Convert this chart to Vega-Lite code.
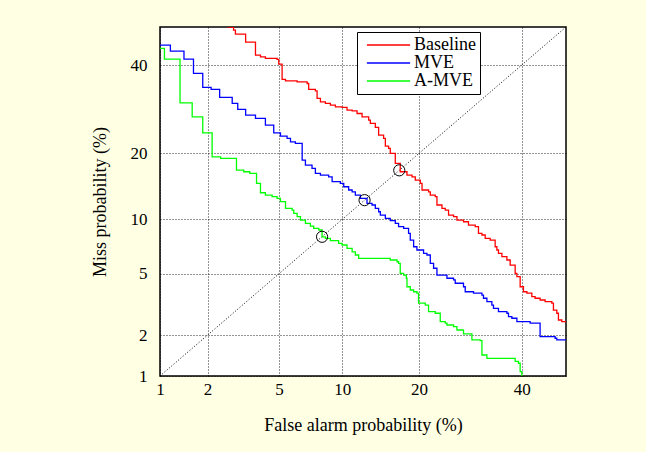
{
  "$schema": "https://vega.github.io/schema/vega-lite/v6.json",
  "width": 406,
  "height": 349,
  "autosize": {"type": "none"},
  "padding": {"left": 160, "top": 27, "right": 80, "bottom": 76},
  "background": "#FFFFE3",
  "config": {
    "view": {"stroke": "black", "strokeWidth": 1.5, "fill": "white"},
    "axis": {
      "grid": true, "gridColor": "#000000", "gridDash": [1, 2], "gridWidth": 1, "gridOpacity": 0.85,
      "domain": false, "ticks": false,
      "labelFont": "Liberation Serif", "labelFontSize": 17, "labelColor": "black",
      "titleFont": "Liberation Serif", "titleFontSize": 18, "titleFontWeight": "normal", "titleColor": "black"
    },
    "legend": {
      "labelFont": "Liberation Serif", "labelFontSize": 18, "labelColor": "black"
    }
  },
  "datasets": {
    "curves": [
      {"s":"Baseline","k":1,"fa":2.62,"miss":50},
      {"s":"Baseline","k":2,"fa":2.84,"miss":49.15},
      {"s":"Baseline","k":3,"fa":2.91,"miss":48.09},
      {"s":"Baseline","k":4,"fa":3.23,"miss":48.09},
      {"s":"Baseline","k":5,"fa":3.32,"miss":45.97},
      {"s":"Baseline","k":6,"fa":3.76,"miss":45.97},
      {"s":"Baseline","k":7,"fa":3.76,"miss":42.56},
      {"s":"Baseline","k":8,"fa":4.00,"miss":42.11},
      {"s":"Baseline","k":9,"fa":4.25,"miss":41.70},
      {"s":"Baseline","k":10,"fa":4.89,"miss":41.44},
      {"s":"Baseline","k":11,"fa":4.99,"miss":40.22},
      {"s":"Baseline","k":12,"fa":5.19,"miss":39.96},
      {"s":"Baseline","k":13,"fa":5.19,"miss":36.33},
      {"s":"Baseline","k":14,"fa":5.40,"miss":35.99},
      {"s":"Baseline","k":15,"fa":6.05,"miss":35.99},
      {"s":"Baseline","k":16,"fa":6.17,"miss":35.71},
      {"s":"Baseline","k":17,"fa":6.90,"miss":35.32},
      {"s":"Baseline","k":18,"fa":7.02,"miss":33.87},
      {"s":"Baseline","k":19,"fa":7.55,"miss":33.53},
      {"s":"Baseline","k":20,"fa":7.69,"miss":31.70},
      {"s":"Baseline","k":21,"fa":7.97,"miss":30.90},
      {"s":"Baseline","k":22,"fa":8.40,"miss":30.52},
      {"s":"Baseline","k":23,"fa":8.85,"miss":30.13},
      {"s":"Baseline","k":24,"fa":9.32,"miss":29.73},
      {"s":"Baseline","k":25,"fa":9.97,"miss":29.60},
      {"s":"Baseline","k":26,"fa":10.48,"miss":28.98},
      {"s":"Baseline","k":27,"fa":11.02,"miss":28.82},
      {"s":"Baseline","k":28,"fa":11.56,"miss":28.21},
      {"s":"Baseline","k":29,"fa":12.13,"miss":27.46},
      {"s":"Baseline","k":30,"fa":12.91,"miss":26.74},
      {"s":"Baseline","k":31,"fa":13.11,"miss":26.02},
      {"s":"Baseline","k":32,"fa":13.73,"miss":25.17},
      {"s":"Baseline","k":33,"fa":14.15,"miss":23.56},
      {"s":"Baseline","k":34,"fa":14.80,"miss":22.89},
      {"s":"Baseline","k":35,"fa":15.03,"miss":21.36},
      {"s":"Baseline","k":36,"fa":15.47,"miss":20.92},
      {"s":"Baseline","k":37,"fa":15.70,"miss":19.98},
      {"s":"Baseline","k":38,"fa":16.40,"miss":19.84},
      {"s":"Baseline","k":39,"fa":16.40,"miss":18.17},
      {"s":"Baseline","k":40,"fa":17.11,"miss":16.73},
      {"s":"Baseline","k":41,"fa":18.11,"miss":16.18},
      {"s":"Baseline","k":42,"fa":18.88,"miss":15.90},
      {"s":"Baseline","k":43,"fa":19.39,"miss":15.38},
      {"s":"Baseline","k":44,"fa":20.19,"miss":14.86},
      {"s":"Baseline","k":45,"fa":20.47,"miss":13.86},
      {"s":"Baseline","k":46,"fa":21.55,"miss":13.60},
      {"s":"Baseline","k":47,"fa":21.84,"miss":13.13},
      {"s":"Baseline","k":48,"fa":22.69,"miss":12.90},
      {"s":"Baseline","k":49,"fa":22.98,"miss":11.77},
      {"s":"Baseline","k":50,"fa":23.86,"miss":11.34},
      {"s":"Baseline","k":51,"fa":24.45,"miss":11.12},
      {"s":"Baseline","k":52,"fa":25.05,"miss":10.50},
      {"s":"Baseline","k":53,"fa":25.97,"miss":10.30},
      {"s":"Baseline","k":54,"fa":26.60,"miss":9.91},
      {"s":"Baseline","k":55,"fa":27.85,"miss":9.71},
      {"s":"Baseline","k":56,"fa":28.82,"miss":9.34},
      {"s":"Baseline","k":57,"fa":30.15,"miss":9.16},
      {"s":"Baseline","k":58,"fa":30.80,"miss":8.45},
      {"s":"Baseline","k":59,"fa":31.50,"miss":8.28},
      {"s":"Baseline","k":60,"fa":32.17,"miss":7.95},
      {"s":"Baseline","k":61,"fa":33.20,"miss":7.78},
      {"s":"Baseline","k":62,"fa":34.24,"miss":7.15},
      {"s":"Baseline","k":63,"fa":34.60,"miss":6.86},
      {"s":"Baseline","k":64,"fa":34.94,"miss":6.57},
      {"s":"Baseline","k":65,"fa":35.67,"miss":6.29},
      {"s":"Baseline","k":66,"fa":36.74,"miss":6.02},
      {"s":"Baseline","k":67,"fa":37.45,"miss":5.63},
      {"s":"Baseline","k":68,"fa":38.54,"miss":5.03},
      {"s":"Baseline","k":69,"fa":38.92,"miss":4.80},
      {"s":"Baseline","k":70,"fa":39.64,"miss":4.17},
      {"s":"Baseline","k":71,"fa":40.37,"miss":3.88},
      {"s":"Baseline","k":72,"fa":41.13,"miss":3.80},
      {"s":"Baseline","k":73,"fa":42.24,"miss":3.61},
      {"s":"Baseline","k":74,"fa":42.98,"miss":3.53},
      {"s":"Baseline","k":75,"fa":44.10,"miss":3.44},
      {"s":"Baseline","k":76,"fa":45.24,"miss":3.36},
      {"s":"Baseline","k":77,"fa":46.76,"miss":3.28},
      {"s":"Baseline","k":78,"fa":47.13,"miss":2.96},
      {"s":"Baseline","k":79,"fa":47.90,"miss":2.82},
      {"s":"Baseline","k":80,"fa":48.27,"miss":2.54},
      {"s":"Baseline","k":81,"fa":49.04,"miss":2.48},
      {"s":"Baseline","k":82,"fa":50,"miss":2.48},
      {"s":"MVE","k":1,"fa":1.0,"miss":45.18},
      {"s":"MVE","k":2,"fa":1.17,"miss":43.60},
      {"s":"MVE","k":3,"fa":1.43,"miss":41.51},
      {"s":"MVE","k":4,"fa":1.64,"miss":37.85},
      {"s":"MVE","k":5,"fa":1.87,"miss":34.35},
      {"s":"MVE","k":6,"fa":2.10,"miss":33.87},
      {"s":"MVE","k":7,"fa":2.36,"miss":31.94},
      {"s":"MVE","k":8,"fa":2.79,"miss":30.52},
      {"s":"MVE","k":9,"fa":3.00,"miss":29.13},
      {"s":"MVE","k":10,"fa":3.32,"miss":27.85},
      {"s":"MVE","k":11,"fa":3.76,"miss":27.12},
      {"s":"MVE","k":12,"fa":4.25,"miss":25.65},
      {"s":"MVE","k":13,"fa":4.70,"miss":24.01},
      {"s":"MVE","k":14,"fa":5.09,"miss":23.36},
      {"s":"MVE","k":15,"fa":5.50,"miss":22.89},
      {"s":"MVE","k":16,"fa":5.72,"miss":22.21},
      {"s":"MVE","k":17,"fa":6.05,"miss":21.90},
      {"s":"MVE","k":18,"fa":6.53,"miss":21.36},
      {"s":"MVE","k":19,"fa":6.53,"miss":18.75},
      {"s":"MVE","k":20,"fa":6.77,"miss":17.87},
      {"s":"MVE","k":21,"fa":7.28,"miss":17.30},
      {"s":"MVE","k":22,"fa":7.55,"miss":16.46},
      {"s":"MVE","k":23,"fa":7.97,"miss":16.18},
      {"s":"MVE","k":24,"fa":8.69,"miss":15.90},
      {"s":"MVE","k":25,"fa":9.01,"miss":15.12},
      {"s":"MVE","k":26,"fa":9.80,"miss":14.86},
      {"s":"MVE","k":27,"fa":10.14,"miss":14.35},
      {"s":"MVE","k":28,"fa":10.65,"miss":13.86},
      {"s":"MVE","k":29,"fa":11.02,"miss":13.60},
      {"s":"MVE","k":30,"fa":11.37,"miss":13.13},
      {"s":"MVE","k":31,"fa":11.94,"miss":12.67},
      {"s":"MVE","k":32,"fa":12.71,"miss":11.99},
      {"s":"MVE","k":33,"fa":13.32,"miss":11.77},
      {"s":"MVE","k":34,"fa":13.73,"miss":11.34},
      {"s":"MVE","k":35,"fa":14.15,"miss":10.91},
      {"s":"MVE","k":36,"fa":14.37,"miss":10.50},
      {"s":"MVE","k":37,"fa":15.03,"miss":10.11},
      {"s":"MVE","k":38,"fa":15.70,"miss":9.83},
      {"s":"MVE","k":39,"fa":16.40,"miss":9.53},
      {"s":"MVE","k":40,"fa":16.87,"miss":9.16},
      {"s":"MVE","k":41,"fa":17.61,"miss":8.98},
      {"s":"MVE","k":42,"fa":18.35,"miss":8.45},
      {"s":"MVE","k":43,"fa":18.61,"miss":7.78},
      {"s":"MVE","k":44,"fa":19.13,"miss":7.15},
      {"s":"MVE","k":45,"fa":19.65,"miss":6.86},
      {"s":"MVE","k":46,"fa":20.72,"miss":6.57},
      {"s":"MVE","k":47,"fa":21.28,"miss":6.43},
      {"s":"MVE","k":48,"fa":21.84,"miss":5.76},
      {"s":"MVE","k":49,"fa":22.40,"miss":5.39},
      {"s":"MVE","k":50,"fa":22.98,"miss":4.91},
      {"s":"MVE","k":51,"fa":24.76,"miss":4.70},
      {"s":"MVE","k":52,"fa":25.97,"miss":4.59},
      {"s":"MVE","k":53,"fa":26.28,"miss":4.38},
      {"s":"MVE","k":54,"fa":27.85,"miss":4.17},
      {"s":"MVE","k":55,"fa":28.18,"miss":3.88},
      {"s":"MVE","k":56,"fa":29.81,"miss":3.80},
      {"s":"MVE","k":57,"fa":31.50,"miss":3.70},
      {"s":"MVE","k":58,"fa":31.82,"miss":3.53},
      {"s":"MVE","k":59,"fa":32.52,"miss":3.36},
      {"s":"MVE","k":60,"fa":33.55,"miss":3.19},
      {"s":"MVE","k":61,"fa":33.89,"miss":3.04},
      {"s":"MVE","k":62,"fa":34.94,"miss":2.89},
      {"s":"MVE","k":63,"fa":36.74,"miss":2.82},
      {"s":"MVE","k":64,"fa":37.09,"miss":2.68},
      {"s":"MVE","k":65,"fa":37.82,"miss":2.61},
      {"s":"MVE","k":66,"fa":38.92,"miss":2.48},
      {"s":"MVE","k":67,"fa":41.86,"miss":2.42},
      {"s":"MVE","k":68,"fa":43.72,"miss":2.42},
      {"s":"MVE","k":69,"fa":44.10,"miss":1.95},
      {"s":"MVE","k":70,"fa":47.51,"miss":1.90},
      {"s":"MVE","k":71,"fa":47.90,"miss":1.85},
      {"s":"MVE","k":72,"fa":50,"miss":1.85},
      {"s":"A-MVE","k":1,"fa":1.0,"miss":44.31},
      {"s":"A-MVE","k":2,"fa":1.07,"miss":44.31},
      {"s":"A-MVE","k":3,"fa":1.07,"miss":41.51},
      {"s":"A-MVE","k":4,"fa":1.35,"miss":41.51},
      {"s":"A-MVE","k":5,"fa":1.35,"miss":30.66},
      {"s":"A-MVE","k":6,"fa":1.61,"miss":30.66},
      {"s":"A-MVE","k":7,"fa":1.61,"miss":27.46},
      {"s":"A-MVE","k":8,"fa":1.87,"miss":27.46},
      {"s":"A-MVE","k":9,"fa":1.87,"miss":24.01},
      {"s":"A-MVE","k":10,"fa":2.13,"miss":24.01},
      {"s":"A-MVE","k":11,"fa":2.13,"miss":19.35},
      {"s":"A-MVE","k":12,"fa":2.39,"miss":19.06},
      {"s":"A-MVE","k":13,"fa":2.95,"miss":19.06},
      {"s":"A-MVE","k":14,"fa":2.95,"miss":17.01},
      {"s":"A-MVE","k":15,"fa":3.24,"miss":16.73},
      {"s":"A-MVE","k":16,"fa":3.50,"miss":16.46},
      {"s":"A-MVE","k":17,"fa":3.81,"miss":14.86},
      {"s":"A-MVE","k":18,"fa":4.00,"miss":14.60},
      {"s":"A-MVE","k":19,"fa":4.00,"miss":13.46},
      {"s":"A-MVE","k":20,"fa":4.25,"miss":13.13},
      {"s":"A-MVE","k":21,"fa":4.61,"miss":12.90},
      {"s":"A-MVE","k":22,"fa":4.89,"miss":12.67},
      {"s":"A-MVE","k":23,"fa":5.09,"miss":12.21},
      {"s":"A-MVE","k":24,"fa":5.29,"miss":12.21},
      {"s":"A-MVE","k":25,"fa":5.40,"miss":11.34},
      {"s":"A-MVE","k":26,"fa":5.61,"miss":11.34},
      {"s":"A-MVE","k":27,"fa":5.83,"miss":11.12},
      {"s":"A-MVE","k":28,"fa":5.94,"miss":10.71},
      {"s":"A-MVE","k":29,"fa":6.17,"miss":10.30},
      {"s":"A-MVE","k":30,"fa":6.41,"miss":9.91},
      {"s":"A-MVE","k":31,"fa":6.77,"miss":9.53},
      {"s":"A-MVE","k":32,"fa":7.15,"miss":9.23},
      {"s":"A-MVE","k":33,"fa":7.41,"miss":8.98},
      {"s":"A-MVE","k":34,"fa":7.83,"miss":8.80},
      {"s":"A-MVE","k":35,"fa":8.11,"miss":8.10},
      {"s":"A-MVE","k":36,"fa":8.40,"miss":7.95},
      {"s":"A-MVE","k":37,"fa":8.85,"miss":7.72},
      {"s":"A-MVE","k":38,"fa":9.63,"miss":7.47},
      {"s":"A-MVE","k":39,"fa":9.97,"miss":7.31},
      {"s":"A-MVE","k":40,"fa":10.48,"miss":7.01},
      {"s":"A-MVE","k":41,"fa":11.02,"miss":6.70},
      {"s":"A-MVE","k":42,"fa":11.37,"miss":6.43},
      {"s":"A-MVE","k":43,"fa":11.74,"miss":6.15},
      {"s":"A-MVE","k":44,"fa":14.37,"miss":6.15},
      {"s":"A-MVE","k":45,"fa":15.70,"miss":6.02},
      {"s":"A-MVE","k":46,"fa":16.65,"miss":5.88},
      {"s":"A-MVE","k":47,"fa":16.87,"miss":5.76},
      {"s":"A-MVE","k":48,"fa":17.11,"miss":5.03},
      {"s":"A-MVE","k":49,"fa":17.61,"miss":4.91},
      {"s":"A-MVE","k":50,"fa":18.01,"miss":4.70},
      {"s":"A-MVE","k":51,"fa":18.11,"miss":4.17},
      {"s":"A-MVE","k":52,"fa":18.61,"miss":3.98},
      {"s":"A-MVE","k":53,"fa":19.13,"miss":3.88},
      {"s":"A-MVE","k":54,"fa":19.65,"miss":3.80},
      {"s":"A-MVE","k":55,"fa":19.91,"miss":3.28},
      {"s":"A-MVE","k":56,"fa":21.00,"miss":3.19},
      {"s":"A-MVE","k":57,"fa":21.55,"miss":2.89},
      {"s":"A-MVE","k":58,"fa":22.69,"miss":2.82},
      {"s":"A-MVE","k":59,"fa":23.56,"miss":2.48},
      {"s":"A-MVE","k":60,"fa":24.45,"miss":2.42},
      {"s":"A-MVE","k":61,"fa":24.76,"miss":2.35},
      {"s":"A-MVE","k":62,"fa":25.97,"miss":2.29},
      {"s":"A-MVE","k":63,"fa":26.60,"miss":2.17},
      {"s":"A-MVE","k":64,"fa":27.85,"miss":2.04},
      {"s":"A-MVE","k":65,"fa":29.49,"miss":2.00},
      {"s":"A-MVE","k":66,"fa":29.49,"miss":1.85},
      {"s":"A-MVE","k":67,"fa":31.15,"miss":1.83},
      {"s":"A-MVE","k":68,"fa":31.50,"miss":1.44},
      {"s":"A-MVE","k":69,"fa":32.52,"miss":1.36},
      {"s":"A-MVE","k":70,"fa":38.17,"miss":1.36},
      {"s":"A-MVE","k":71,"fa":38.54,"miss":1.29},
      {"s":"A-MVE","k":72,"fa":39.27,"miss":1.25},
      {"s":"A-MVE","k":73,"fa":39.64,"miss":1.08},
      {"s":"A-MVE","k":74,"fa":40.01,"miss":1.0}
    ],
    "diag": [{"fa": 1, "miss": 1}, {"fa": 50, "miss": 50}],
    "eer": [
      {"s": "Baseline", "fa": 16.97, "miss": 16.97},
      {"s": "MVE", "fa": 12.42, "miss": 12.42},
      {"s": "A-MVE", "fa": 8.11, "miss": 8.10}
    ]
  },
  "encoding": {
    "x": {
      "field": "zx", "type": "quantitative",
      "scale": {"domain": [-2.3263479, 0], "nice": false, "zero": false},
      "axis": {
        "title": "False alarm probability (%)",
        "values": [-2.3263479, -2.0537489, -1.6448536, -1.2815516, -0.8416212, -0.2533471],
        "labelExpr": "datum.value < -2.2 ? '1' : datum.value < -1.9 ? '2' : datum.value < -1.5 ? '5' : datum.value < -1.1 ? '10' : datum.value < -0.6 ? '20' : '40'",
        "labelPadding": 5, "titlePadding": 19, "labelFlush": false
      }
    },
    "y": {
      "field": "zy", "type": "quantitative",
      "scale": {"domain": [-2.3263479, 0], "nice": false, "zero": false},
      "axis": {
        "title": "Miss probability (%)",
        "values": [-2.3263479, -2.0537489, -1.6448536, -1.2815516, -0.8416212, -0.2533471],
        "labelExpr": "datum.value < -2.2 ? '1' : datum.value < -1.9 ? '2' : datum.value < -1.5 ? '5' : datum.value < -1.1 ? '10' : datum.value < -0.6 ? '20' : '40'",
        "labelPadding": 13, "titlePadding": 21, "labelFlush": false
      }
    }
  },
  "layer": [
    {
      "data": {"name": "diag"},
      "transform": [
        {"calculate": "quantileNormal(datum.fa / 100)", "as": "zx"},
        {"calculate": "quantileNormal(datum.miss / 100)", "as": "zy"}
      ],
      "mark": {"type": "line", "color": "black", "strokeWidth": 1, "strokeDash": [1, 2], "clip": true},
      "encoding": {}
    },
    {
      "data": {"name": "curves"},
      "transform": [
        {"calculate": "quantileNormal(datum.fa / 100)", "as": "zx"},
        {"calculate": "quantileNormal(datum.miss / 100)", "as": "zy"}
      ],
      "mark": {"type": "line", "interpolate": "step-after", "strokeWidth": 1.3, "clip": true},
      "encoding": {
        "order": {"field": "k", "type": "quantitative"},
        "color": {
          "field": "s", "type": "nominal",
          "scale": {"domain": ["Baseline", "MVE", "A-MVE"], "range": ["#FF0000", "#0000FF", "#00FF00"]},
          "legend": {
            "title": null, "orient": "none", "legendX": 197, "legendY": 5,
            "strokeColor": "black", "fillColor": "white", "padding": 4,
            "symbolType": "M-2.7,0L2.7,0", "symbolSize": 256, "symbolStrokeWidth": 1.3,
            "symbolOffset": 18.5, "labelOffset": 16.5, "rowPadding": 0
          }
        }
      }
    },
    {
      "data": {"name": "eer"},
      "transform": [
        {"calculate": "quantileNormal(datum.fa / 100)", "as": "zx"},
        {"calculate": "quantileNormal(datum.miss / 100)", "as": "zy"}
      ],
      "mark": {"type": "point", "shape": "circle", "filled": false, "stroke": "black", "strokeWidth": 1, "size": 125, "opacity": 1}
    }
  ]
}
